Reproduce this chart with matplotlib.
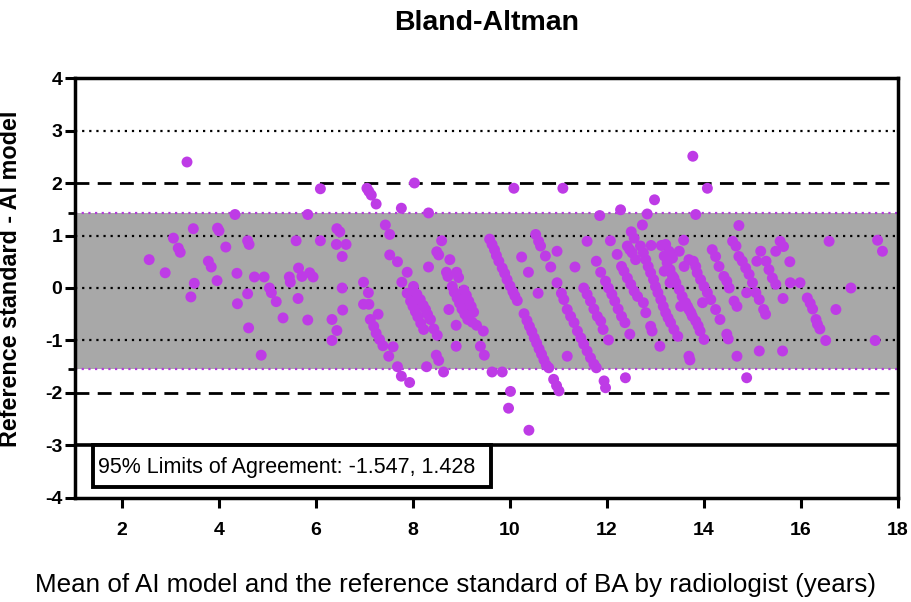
import matplotlib
matplotlib.use("Agg")
import matplotlib.pyplot as plt
from matplotlib.patches import Rectangle
import numpy as np

plt.rcParams['font.family'] = ['Liberation Sans', 'DejaVu Sans']

# Mean of AI model and reference (years)
mean_vals = [
    2.56, 2.89, 3.06, 3.16, 3.20, 3.34, 3.47, 3.49, 3.42, 3.78, 3.84, 3.97, 4.00, 3.96, 4.14,
    4.33, 4.37, 4.38, 4.59, 4.62, 4.59, 4.61, 4.73, 4.87, 4.93, 5.04, 5.08, 5.18, 5.32, 5.45,
    5.47, 5.59, 5.64, 5.71, 5.63, 5.87, 5.94, 5.83, 5.83, 6.09, 6.09, 6.33, 6.43, 6.33, 6.43,
    6.49, 6.42, 6.62, 6.54, 6.54, 6.55, 6.98, 7.08, 6.98, 7.09,
    7.05, 7.09, 7.14, 7.24, 7.43, 7.52, 7.52, 7.68, 7.88, 7.77, 7.76, 8.03, 7.12, 7.19, 7.24,
    7.31, 7.38, 7.28, 7.59, 7.50, 7.68, 7.76, 7.93,
    8.32, 8.32, 8.59, 8.49, 8.53, 8.76, 8.69, 8.72, 8.90, 8.94,
    7.88, 7.95, 8.00, 8.05, 8.10, 8.16, 8.22,
    8.01, 8.08, 8.15, 8.21, 8.26, 8.30, 8.36, 8.43, 8.50,
    8.28, 8.48, 8.53, 8.63, 8.74, 8.89, 8.89,
    8.81, 8.85, 8.91, 8.96, 9.01, 9.07, 9.13, 9.22, 9.31, 9.45,
    9.05, 9.10, 9.15, 9.20, 9.25, 9.39, 9.47,
    9.58, 9.63, 9.68, 9.72, 9.77, 9.84, 9.89, 9.94, 10.00, 10.06, 10.10, 10.15,
    9.63, 9.84, 10.01, 9.97, 10.39, 10.08,
    10.53, 10.59, 10.63, 10.24, 10.38, 10.73, 10.84, 10.97, 10.58, 10.97, 11.06, 11.11,
    10.29, 10.35, 10.40, 10.45, 10.50, 10.55, 10.60, 10.65, 10.70, 10.75, 10.80,
    10.90, 10.96, 11.01, 11.09,
    11.18, 11.85, 11.59, 11.78, 11.87, 11.34, 12.07,
    11.18, 11.25, 11.32, 11.39, 11.46, 11.52, 11.59, 11.66, 11.73, 11.78,
    11.52, 11.59, 11.66, 11.73, 11.80, 11.87, 11.92, 12.03,
    11.94, 11.97, 12.38,
    11.97, 12.03, 12.10, 12.16, 12.23, 12.30, 12.37, 12.47,
    12.28, 12.73, 12.50, 12.56, 12.42, 12.47, 12.52, 12.59, 12.21, 12.98, 12.83,
    12.30, 12.35, 12.42, 12.49, 12.56, 12.63,
    12.69, 12.75, 12.80, 12.85, 12.90, 12.96, 13.00, 13.05, 13.11, 13.16, 13.21, 13.26, 13.31,
    13.38, 13.46,
    12.91, 13.12, 12.75, 12.80, 12.90, 12.93, 13.09,
    13.77, 14.07, 13.83, 14.72, 13.58, 13.49,
    13.18, 13.24, 13.30, 13.35, 13.42, 13.49, 13.55, 13.62, 13.69, 13.76, 13.83, 13.92, 14.00,
    13.59, 13.69, 13.78, 13.83, 13.86, 13.93, 14.00, 14.07, 14.14,
    13.18, 13.30, 13.38, 13.52, 13.66, 13.73, 13.97, 13.88, 13.69, 13.71,
    13.21, 13.28, 13.35,
    14.17, 14.24, 14.31, 14.41, 14.47, 14.52, 14.62, 14.68, 14.24, 14.33, 14.47, 14.50,
    14.59, 14.66, 14.72, 14.79, 14.86, 14.93, 15.00, 14.88, 14.68, 14.88,
    15.09, 15.28, 15.34, 15.41, 15.48, 15.17, 15.48, 15.57, 15.64,
    15.07, 15.14, 15.23, 15.27, 15.14, 15.62,
    15.77, 15.78, 15.98, 15.63,
    16.13, 16.19, 16.24, 16.31, 16.34, 16.39,
    16.58, 16.72, 16.51, 17.03, 17.58, 17.68, 17.53,
]

# Difference: reference standard - AI model (years)
diff_vals = [
    0.54, 0.29, 0.95, 0.76, 0.68, 2.40, 1.13, 0.09, -0.17, 0.51, 0.40, 1.14, 1.09, 0.14, 0.78,
    1.40, 0.28, -0.30, 0.90, 0.83, -0.11, -0.76, 0.21, -1.28, 0.21, 0.00, -0.09, -0.26, -0.57, 0.21,
    0.11, 0.90, 0.38, 0.22, -0.20, 0.29, 0.21, 1.40, -0.61, 1.89, 0.90, -0.60, -0.81, -1.00, 1.13,
    1.07, 0.83, 0.83, 0.60, 0.00, -0.42, 0.11, -0.09, -0.31, -0.31,
    1.90, 1.84, 1.77, 1.60, 1.20, 1.02, 0.63, 0.50, 0.30, 0.11, 1.52, 2.00, -0.60, -0.73, -0.86,
    -0.98, -1.10, -0.50, -1.12, -1.30, -1.50, -1.68, -1.80,
    1.43, 0.40, 0.90, 0.69, 0.63, 0.54, 0.30, 0.22, 0.30, 0.20,
    -0.10, -0.25, -0.35, -0.45, -0.55, -0.67, -0.79,
    0.03, -0.12, -0.22, -0.33, -0.41, -0.50, -0.60, -0.78, -0.90,
    -1.50, -1.28, -1.38, -1.60, -0.41, -0.71, -1.11,
    0.03, -0.08, -0.19, -0.29, -0.40, -0.50, -0.60, -0.65, -0.71, -0.82,
    -0.04, -0.14, -0.25, -0.35, -0.46, -1.11, -1.28,
    0.93, 0.83, 0.73, 0.62, 0.51, 0.38, 0.28, 0.16, 0.04, -0.07, -0.15, -0.24,
    -1.60, -1.60, -1.97, -2.29, -2.71, 1.90,
    1.02, 0.89, 0.80, 0.59, 0.30, 0.61, 0.40, 0.70, -0.10, 0.10, -0.10, -0.22,
    -0.49, -0.62, -0.73, -0.83, -0.95, -1.05, -1.16, -1.26, -1.37, -1.47, -1.52,
    -1.74, -1.86, -1.96, 1.90,
    -1.30, 1.38, 0.89, 0.51, 0.30, 0.40, 0.90,
    -0.41, -0.54, -0.66, -0.82, -0.95, -1.07, -1.20, -1.33, -1.45, -1.52,
    0.00, -0.12, -0.25, -0.40, -0.54, -0.63, -0.79, -0.99,
    -1.77, -1.90, -1.71,
    0.13, 0.00, -0.12, -0.25, -0.40, -0.54, -0.66, -0.88,
    1.49, 1.20, 1.07, 0.95, 0.80, 0.73, 0.67, 0.54, 0.64, 1.68, 1.41,
    0.41, 0.32, 0.19, 0.07, -0.06, -0.16,
    0.80, 0.67, 0.54, 0.41, 0.29, 0.16, 0.03, -0.09, -0.22, -0.35, -0.47, -0.57, -0.66,
    -0.79, -0.92,
    0.81, 0.81, -0.28, -0.47, -0.73, -0.82, -1.11,
    2.51, 1.90, 1.40, 1.19, 0.91, 0.70,
    0.61, 0.48, 0.35, 0.23, 0.10, -0.03, -0.16, -0.28, -0.41, -0.54, -0.63, -0.82, -0.98,
    0.41, 0.54, 0.51, 0.41, 0.29, 0.16, 0.03, -0.09, -0.22,
    0.32, 0.10, 0.19, -0.35, -0.35, -0.47, -0.28, -0.72, -1.30, -1.37,
    0.83, 0.70, 0.57,
    0.73, 0.60, 0.41, 0.22, 0.13, 0.00, -0.25, -0.35, -0.41, -0.60, -0.88, -0.97,
    0.89, 0.80, 0.60, 0.51, 0.38, 0.26, 0.10, -0.09, -1.30, -1.71,
    0.51, 0.51, 0.35, 0.19, 0.07, 0.70, 0.70, 0.89, 0.79,
    -0.09, -0.22, -0.41, -0.50, -1.20, -1.20,
    0.50, 0.10, 0.10, -0.20,
    -0.19, -0.29, -0.40, -0.60, -0.69, -0.78,
    0.89, -0.41, -1.00, 0.00, 0.91, 0.70, -1.00,
]

lower_loa = -1.547
upper_loa = 1.428
x_ticks = [2, 4, 6, 8, 10, 12, 14, 16, 18]
y_ticks = [-4, -3, -2, -1, 0, 1, 2, 3, 4]
title = "Bland-Altman"
xlabel = "Mean of AI model and the reference standard of BA by radiologist (years)"
ylabel = "Reference standard - AI model"
loa_text = "95% Limits of Agreement: -1.547, 1.428"

fig = plt.figure(figsize=(9.11, 6.02), dpi=100)
ax = fig.add_axes([0.0823, 0.1728, 0.9034, 0.6976])
ax.set_xlim(1.03, 18.0)
ax.set_ylim(-4, 4)

# shaded limits of agreement band
ax.axhspan(lower_loa, upper_loa, color='#A8A8A8', zorder=1, lw=0)
for v in (lower_loa, upper_loa):
    ax.axhline(v, color='#B03CD8', ls=(0, (1, 2)), lw=1.6, zorder=2)

for v in (3, 1, 0, -1):
    ax.axhline(v, color='black', ls=(0, (1, 2.2)), lw=1.6, zorder=2)
for v in (2, -2):
    ax.axhline(v, color='black', ls=(0, (5, 3)), lw=2.0, zorder=2)
ax.axhline(-3, color='black', lw=2.6, zorder=2)

ax.scatter(mean_vals, diff_vals, s=62, color='#BE3BE6', edgecolors='none', zorder=3)

for sp in ax.spines.values():
    sp.set_linewidth(2.5)
    sp.set_color('black')

ax.set_xticks(x_ticks)
ax.set_yticks(y_ticks)
ax.set_yticks([lower_loa, upper_loa], minor=True)
ax.tick_params(axis='both', which='major', direction='out', length=7, width=2.2, pad=2,
               labelsize=14)
ax.tick_params(axis='x', which='major', pad=10)
ax.tick_params(axis='y', which='minor', direction='out', length=5, width=2.0,
               labelleft=False)
ax.set_xticklabels([str(t) for t in x_ticks])
ax.set_yticklabels([str(t) for t in y_ticks])
for lbl in ax.get_xticklabels() + ax.get_yticklabels():
    lbl.set_fontweight('bold')
    lbl.set_fontsize(14)

# limits-of-agreement box
ax.add_patch(Rectangle((1.40, -3.79), 8.20, 0.79, fc='white', ec='black', lw=2.8, zorder=5))
ax.text(1.50, -3.42, loa_text, fontsize=15.5, ha='left', va='center', zorder=6)

fig.text(0.534, 0.962, title, fontsize=20.5, fontweight='bold', ha='center', va='center')
fig.text(0.500, 0.028, xlabel, fontsize=18.7, ha='center', va='center')
ax.set_ylabel(ylabel, fontsize=16.8, fontweight='bold')
ax.yaxis.set_label_coords(-0.0644, 0.521)

fig.savefig('out.png', dpi=100)
